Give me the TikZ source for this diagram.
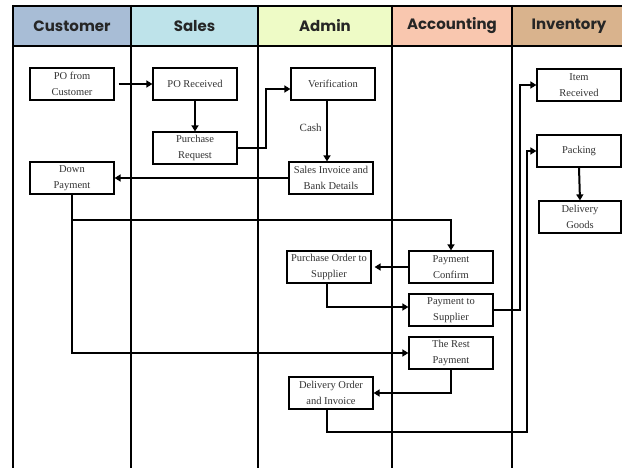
\documentclass[tikz,border=0pt]{standalone}
\usepackage{fontspec}
\setmainfont{Liberation Serif}
\newfontfamily\headfont{Poppins}
\usetikzlibrary{arrows.meta,calc}

\definecolor{custC}{HTML}{A8BDD6}
\definecolor{salesC}{HTML}{BEE3EA}
\definecolor{adminC}{HTML}{EEFBC6}
\definecolor{acctC}{HTML}{F9C7AF}
\definecolor{invC}{HTML}{D9B38D}

\tikzset{
  lane/.style={line width=2pt, black},
  headtext/.style={font=\headfont\bfseries\fontsize{15}{18}\selectfont, text=black!85},
  procbox/.style={draw, line width=1.2pt, fill=white, minimum width=84pt, minimum height=32pt,
    inner sep=0pt, align=center, font=\fontsize{10.5}{15.5}\selectfont, text=black!80},
  flow/.style={line width=2pt, -{Triangle[length=6pt,width=7pt]}}
}

\begin{document}
\begin{tikzpicture}[x=1pt, y=-1pt]
  \useasboundingbox (0,0) rectangle (622,468);
  \fill[white] (0,0) rectangle (622,468);

  % header cells
  \fill[custC]  (13,6) rectangle (131,46);
  \fill[salesC] (131,6) rectangle (258,46);
  \fill[adminC] (258,6) rectangle (392,46);
  \fill[acctC]  (392,6) rectangle (512,46);
  \fill[invC]   (512,6) rectangle (622,46);
  \draw[lane] (12,6) -- (622,6);
  \draw[lane] (12,46) -- (622,46);

  % swimlane dividers
  \foreach \lx in {13,131,258,392,512}
    \draw[lane] (\lx,5) -- (\lx,468);

  \node[headtext] (hcust) at (72,26) {Customer};
  \node[headtext] (hsales) at (194.5,26) {Sales};
  \node[headtext] (hadmin) at (325,26) {Admin};
  \node[headtext] (hacct) at (452,26) {Accounting};
  \node[headtext] (hinv) at (569,26) {Inventory};

  % process steps
  \node[procbox] (pofc)   at (72,84)   {PO from\\Customer};
  \node[procbox] (porec)  at (195,84)  {PO Received};
  \node[procbox] (preq)   at (195,148) {Purchase\\Request};
  \node[procbox] (dp)     at (72,178)  {Down\\Payment};
  \node[procbox] (verif)  at (333,84)  {Verification};
  \node[procbox] (sinv)   at (331,178) {Sales Invoice and\\Bank Details};
  \node[procbox] (itemr)  at (579,85)  {Item\\Received};
  \node[procbox] (pack)   at (579,151) {Packing};
  \node[procbox, minimum width=82pt] (dgoods) at (580,217) {Delivery\\Goods};
  \node[procbox] (pconf)  at (451,267) {Payment\\Confirm};
  \node[procbox] (pos)    at (329,267) {Purchase Order to\\Supplier};
  \node[procbox] (pts)    at (451,310) {Payment to\\Supplier};
  \node[procbox] (rest)   at (451,353) {The Rest\\Payment};
  \node[procbox] (doi)    at (331,393) {Delivery Order\\and Invoice};

  % connectors
  \draw[flow, shorten <=4pt] (pofc.east) -- (porec.west);
  \draw[flow] (porec.south) -- (preq.north);
  \draw[flow] (preq.east) -- ++(28,0) |- ([yshift=-5pt]verif.west);
  \draw[flow] ([xshift=-6pt]verif.south) -- ([xshift=-4pt]sinv.north)
    node[pos=0.45, left=1pt, font=\fontsize{11}{13}\selectfont, text=black!80] (cashlbl) {Cash};
  \draw[flow] (sinv.west) -- (dp.east);
  \draw[flow] (dp.south) -- ++(0,25) -| (pconf.north);
  \draw[flow] (dp.south) |- (rest.west);
  \draw[flow, shorten >=3pt] (pconf.west) -- (pos.east);
  \draw[flow] ([xshift=-2pt]pos.south) |- ([yshift=3pt]pts.west);
  \draw[flow] (pts.east) -- ++(26,0) |- (itemr.west);
  \draw[flow] (rest.south) |- (doi.east);
  \draw[flow] ([xshift=-4pt]doi.south) -- ++(0,22) -| ([xshift=-9pt]pack.west) -- (pack.west);
  \draw[flow] (pack.south) -- (dgoods.north);
\end{tikzpicture}
\end{document}
